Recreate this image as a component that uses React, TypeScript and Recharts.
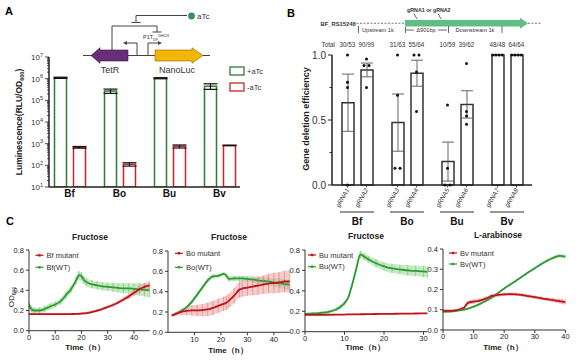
import React from "react";
import {
  Area,
  Bar,
  BarChart,
  ComposedChart,
  ErrorBar,
  Line,
  Scatter,
  XAxis,
  YAxis
} from "recharts";

const FONT = "'Liberation Sans', Arial, sans-serif";

// ---------- A: luminescence ----------
const lumStrains = ["Bf", "Bo", "Bu", "Bv"];
const lumPlus = [1.1e6, 2.7e5, 1.05e6, 4.5e5];
const lumPlusErr = [7e4, 6e4, 6e4, 1.3e5];
const lumMinus = [680, 112, 750, 830];
const lumMinusErr = [60, 20, 120, 20];

// ---------- B: deletion efficiency ----------
const delStrains = ["Bf", "Bo", "Bu", "Bv"];
const effFirst = [0.633, 0.48, 0.18, 1];
const effFirstErr = [0.22, 0.22, 0.15, 0];
const effSecond = [0.885, 0.86, 0.62, 1];
const effSecondErr = [0.053, 0.1, 0.105, 0];
const totalsFirst = ["30/53", "31/63", "10/59", "48/48"];
const totalsSecond = ["90/99", "55/64", "39/62", "64/64"];
const dotsFirst = [
  [1, 0.79, 0.75, 0],
  [1, 0.69, 0.128, 0.128],
  [0.615, 0.128, 0, 0],
  [1, 1, 1, 1]
];
const dotsSecond = [
  [0.97, 0.92, 0.92, 0.75],
  [1, 1, 0.87, 0.565],
  [0.935, 0.565, 0.53, 0.467],
  [1, 1, 1, 1]
];

// ---------- C: growth curves ----------
const bfTime = [0, 1, 2, 4, 6, 8, 10, 12, 14, 16, 18, 19, 20, 21, 22, 24, 26, 28, 30, 32, 34, 36, 38, 40, 42, 44, 46];
const bfWT = [0.26, 0.21, 0.2, 0.2, 0.215, 0.24, 0.26, 0.29, 0.35, 0.41, 0.5, 0.55, 0.54, 0.5, 0.48, 0.46, 0.45, 0.44, 0.435, 0.43, 0.425, 0.42, 0.42, 0.415, 0.41, 0.405, 0.4];
const bfWTErr = [0.03, 0.03, 0.03, 0.03, 0.03, 0.03, 0.03, 0.03, 0.035, 0.035, 0.04, 0.04, 0.04, 0.04, 0.04, 0.04, 0.04, 0.04, 0.04, 0.045, 0.045, 0.05, 0.05, 0.055, 0.06, 0.065, 0.07];
const bfMut = [0.165, 0.165, 0.165, 0.164, 0.164, 0.164, 0.164, 0.164, 0.164, 0.165, 0.166, 0.167, 0.17, 0.172, 0.175, 0.185, 0.2, 0.215, 0.235, 0.255, 0.28, 0.31, 0.34, 0.375, 0.41, 0.435, 0.45];
const bfMutErr = [0.01, 0.01, 0.01, 0.01, 0.01, 0.01, 0.01, 0.01, 0.01, 0.01, 0.01, 0.01, 0.01, 0.01, 0.012, 0.012, 0.013, 0.014, 0.015, 0.017, 0.018, 0.02, 0.025, 0.03, 0.033, 0.035, 0.04];

const boTime = [1.5, 3, 5, 7, 9, 11, 13, 15, 17, 19, 21, 22, 23, 25, 27, 28, 30, 32, 34, 36, 38, 40, 42, 44, 46];
const boWT = [0.17, 0.185, 0.21, 0.245, 0.3, 0.37, 0.44, 0.51, 0.55, 0.555, 0.575, 0.56, 0.525, 0.53, 0.53, 0.53, 0.525, 0.52, 0.51, 0.505, 0.5, 0.49, 0.485, 0.475, 0.47];
const boWTErr = [0.01, 0.012, 0.015, 0.018, 0.02, 0.022, 0.022, 0.022, 0.02, 0.015, 0.015, 0.02, 0.025, 0.025, 0.025, 0.025, 0.028, 0.03, 0.032, 0.035, 0.038, 0.04, 0.045, 0.048, 0.05];
const boMut = [0.165, 0.18, 0.2, 0.21, 0.215, 0.215, 0.218, 0.225, 0.24, 0.26, 0.28, 0.29, 0.31, 0.36, 0.42, 0.43, 0.44, 0.45, 0.46, 0.47, 0.48, 0.485, 0.49, 0.5, 0.5];
const boMutErr = [0.015, 0.02, 0.03, 0.04, 0.05, 0.055, 0.06, 0.065, 0.07, 0.07, 0.07, 0.07, 0.07, 0.075, 0.08, 0.08, 0.08, 0.085, 0.09, 0.09, 0.095, 0.1, 0.1, 0.105, 0.11];

const buTime = [0, 2, 4, 6, 8, 9, 10, 11, 12, 13, 14, 15, 16, 18, 20, 22, 24, 26, 28, 30, 31];
const buWT = [0.175, 0.178, 0.185, 0.195, 0.22, 0.245, 0.28, 0.34, 0.47, 0.62, 0.755, 0.735, 0.71, 0.67, 0.64, 0.62, 0.61, 0.6, 0.595, 0.59, 0.585];
const buWTErr = [0.01, 0.01, 0.012, 0.014, 0.016, 0.018, 0.02, 0.022, 0.025, 0.03, 0.035, 0.035, 0.035, 0.04, 0.04, 0.045, 0.045, 0.05, 0.05, 0.055, 0.055];
const buMut = [0.165, 0.165, 0.166, 0.166, 0.167, 0.168, 0.168, 0.169, 0.17, 0.17, 0.171, 0.171, 0.172, 0.173, 0.174, 0.175, 0.176, 0.177, 0.178, 0.179, 0.18];
const buMutErr = [0.005, 0.005, 0.005, 0.005, 0.005, 0.005, 0.005, 0.005, 0.005, 0.005, 0.005, 0.005, 0.005, 0.005, 0.005, 0.005, 0.005, 0.005, 0.005, 0.005, 0.005];

const bvTime = [0, 2, 4, 6, 7, 8, 9, 10, 12, 14, 16, 18, 20, 22, 24, 26, 28, 30, 32, 34, 36, 37, 38, 39, 40];
const bvWT = [0.09, 0.091, 0.093, 0.098, 0.101, 0.105, 0.11, 0.115, 0.128, 0.143, 0.16, 0.183, 0.205, 0.225, 0.245, 0.265, 0.286, 0.305, 0.325, 0.342, 0.356, 0.362, 0.366, 0.365, 0.362];
const bvWTErr = [0.004, 0.004, 0.004, 0.004, 0.004, 0.004, 0.004, 0.004, 0.004, 0.004, 0.005, 0.005, 0.005, 0.005, 0.005, 0.005, 0.006, 0.006, 0.006, 0.007, 0.007, 0.008, 0.008, 0.008, 0.008];
const bvMut = [0.095, 0.095, 0.097, 0.105, 0.112, 0.132, 0.138, 0.14, 0.145, 0.155, 0.168, 0.173, 0.176, 0.177, 0.176, 0.172, 0.167, 0.162, 0.157, 0.152, 0.148, 0.145, 0.143, 0.14, 0.138];
const bvMutErr = [0.004, 0.004, 0.005, 0.006, 0.008, 0.01, 0.01, 0.01, 0.01, 0.01, 0.01, 0.009, 0.008, 0.008, 0.008, 0.008, 0.008, 0.008, 0.008, 0.009, 0.01, 0.01, 0.011, 0.012, 0.012];

const GREEN = "#2e9a36";
const RED = "#c0121c";

// ---------- derived tables ----------
const lumData = lumStrains.map((strain, i) => ({
  strain,
  plus: lumPlus[i],
  plusErr: lumPlusErr[i],
  minus: lumMinus[i],
  minusErr: lumMinusErr[i]
}));

const lumTicks: number[] = [];
for (let e = 1; e < 7; e++) for (let m = 1; m < 10; m++) lumTicks.push(m * Math.pow(10, e));
lumTicks.push(1e7);

const delData = delStrains.map((strain, i) => ({
  strain,
  first: effFirst[i],
  firstErr: effFirstErr[i],
  second: effSecond[i],
  secondErr: effSecondErr[i]
}));

// spread duplicate dots sideways so they stay visible
function spread(values: number[]) {
  return values.map((v, k) => {
    const same = values.filter((w) => w === v).length;
    const rank = values.slice(0, k).filter((w) => w === v).length;
    if (same < 2) return 0;
    const step = same > 2 ? 3.2 : 5;
    return (rank - (same - 1) / 2) * step;
  });
}

function dotRows(sets: number[][]) {
  return sets.flatMap((vals, i) => {
    const jit = spread(vals);
    return vals.map((v, k) => ({ strain: delStrains[i], v, j: jit[k] }));
  });
}
const dotsFirstRows = dotRows(dotsFirst);
const dotsSecondRows = dotRows(dotsSecond);

function growthRows(time: number[], wt: number[], wtErr: number[], mut: number[], mutErr: number[]) {
  return time.map((t, i) => ({
    t,
    wt: wt[i],
    wtErr: wtErr[i],
    wtBand: [wt[i] - wtErr[i], wt[i] + wtErr[i]],
    mut: mut[i],
    mutErr: mutErr[i],
    mutBand: [mut[i] - mutErr[i], mut[i] + mutErr[i]]
  }));
}

// ---------- ticks ----------
const LumTick = (props: any) => {
  const { x, y, payload } = props;
  const e = Math.log10(payload.value);
  const major = Math.abs(e - Math.round(e)) < 1e-6;
  return (
    <g>
      <line x1={x} x2={x - (major ? 4 : 2)} y1={y} y2={y} stroke="#222" strokeWidth={0.8} />
      {major && (
        <text x={x - 6} y={y + 3} textAnchor="end" fontSize={8} fill="#333" fontFamily={FONT}>
          10<tspan dy={-3.5} fontSize={5.5}>{Math.round(e)}</tspan>
        </text>
      )}
    </g>
  );
};

const EffYTick = (props: any) => {
  const { x, y, payload } = props;
  const v = payload.value;
  const major = Math.abs(v * 2 - Math.round(v * 2)) < 1e-6;
  return (
    <g>
      <line x1={x} x2={x - (major ? 4 : 2.5)} y1={y} y2={y} stroke="#222" strokeWidth={1} />
      {major && (
        <text x={x - 6} y={y + 3.5} textAnchor="end" fontSize={10} fill="#333" fontFamily={FONT}>
          {v.toFixed(1)}
        </text>
      )}
    </g>
  );
};

const GrnaTick = (props: any) => {
  const { x, y, payload } = props;
  const i = delStrains.indexOf(payload.value);
  return (
    <g fontFamily={FONT}>
      {[0, 1].map((j) => {
        const cx = x + (j === 0 ? -9.5 : 9.5);
        return (
          <g key={j}>
            <line x1={cx} x2={cx} y1={y} y2={y + 2.5} stroke="#333" strokeWidth={0.8} />
            <text
              transform={`translate(${cx + 2},${y + 5}) rotate(-60)`}
              textAnchor="end"
              fontSize={6.4}
              fontStyle="italic"
              fill="#333"
            >
              {`gRNA${2 * i + 1 + j}`}
            </text>
          </g>
        );
      })}
      <line x1={x - 17} x2={x + 17} y1={y + 27} y2={y + 27} stroke="#333" strokeWidth={1.2} />
      <text x={x} y={y + 40} textAnchor="middle" fontSize={10} fontWeight="bold" fill="#111">
        {payload.value}
      </text>
    </g>
  );
};

const TotalTick = (props: any) => {
  const { x, y, payload } = props;
  const i = delStrains.indexOf(payload.value);
  return (
    <g fontFamily={FONT} fontSize={6.3} fill="#333">
      <text x={x - 9.5} y={y - 8.5} textAnchor="middle">{totalsFirst[i]}</text>
      <text x={x + 9.5} y={y - 8.5} textAnchor="middle">{totalsSecond[i]}</text>
    </g>
  );
};

const dotShape = (side: number) => (p: any) => (
  <circle cx={p.cx + side + (p.payload?.j ?? 0)} cy={p.cy} r={1.5} fill="#111" />
);

// ---------- growth panel ----------
type Rect = { left: number; top: number; right: number; bottom: number };

function GrowthPanel(props: {
  rows: ReturnType<typeof growthRows>;
  plot: Rect;
  xMax: number;
  xTicks: number[];
  yMax: number;
  yTicks: number[];
}) {
  const { rows, plot, xMax, xTicks, yMax, yTicks } = props;
  const width = plot.right - plot.left + 34;
  const height = plot.bottom - plot.top + 36;
  const axisStyle = { fontSize: 7.5, fill: "#222", fontFamily: FONT };
  return (
    <div style={{ position: "absolute", left: plot.left - 30, top: plot.top - 12 }}>
      <ComposedChart width={width} height={height} data={rows} margin={{ top: 12, right: 4, left: 0, bottom: 6 }}>
        <XAxis
          type="number"
          dataKey="t"
          domain={[0, xMax]}
          ticks={xTicks}
          interval={0}
          allowDataOverflow
          height={18}
          tickSize={3}
          tickMargin={1}
          tick={axisStyle}
          stroke="#333"
        />
        <YAxis
          domain={[0, yMax]}
          ticks={yTicks}
          interval={0}
          width={30}
          tickSize={3}
          tickMargin={2}
          tick={axisStyle}
          tickFormatter={(v: number) => v.toFixed(1)}
          stroke="#333"
        />
        <Area type="monotone" dataKey="wtBand" stroke="none" fill="#8fd48a" fillOpacity={0.5} isAnimationActive={false} />
        <Area type="monotone" dataKey="mutBand" stroke="none" fill="#e99a9a" fillOpacity={0.5} isAnimationActive={false} />
        <Line type="monotone" dataKey="wt" stroke={GREEN} strokeWidth={1.8} dot={false} isAnimationActive={false}>
          <ErrorBar dataKey="wtErr" width={0} stroke="#6cc46a" strokeWidth={0.6} direction="y" />
        </Line>
        <Line type="monotone" dataKey="mut" stroke={RED} strokeWidth={1.8} dot={false} isAnimationActive={false}>
          <ErrorBar dataKey="mutErr" width={0} stroke="#dd7a7a" strokeWidth={0.6} direction="y" />
        </Line>
      </ComposedChart>
    </div>
  );
}

function Legend2(props: { x: number; y1: number; y2: number; mutant: string; wt: string }) {
  const { x, y1, y2, mutant, wt } = props;
  const item = (y: number, color: string, label: string) => (
    <g>
      <line x1={x} x2={x + 8} y1={y} y2={y} stroke={color} strokeWidth={1.2} />
      <rect x={x + 2.8} y={y - 1.2} width={2.4} height={2.4} fill={color} />
      <text x={x + 11} y={y + 2.6} fontSize={7.5} fill="#333">{label}</text>
    </g>
  );
  return (
    <g fontFamily={FONT}>
      {item(y1, RED, mutant)}
      {item(y2, GREEN, wt)}
    </g>
  );
}

export default function App() {
  const lumAxisStyle = { fontSize: 10, fontWeight: "bold", fill: "#111", fontFamily: FONT };
  return (
    <div style={{ position: "absolute", left: 0, top: 0, width: 587, height: 360, background: "#fff", fontFamily: FONT }}>
      {/* A */}
      <div style={{ position: "absolute", left: 0, top: 40 }}>
        <BarChart
          width={265}
          height={170}
          data={lumData}
          margin={{ top: 17, right: 25, left: 0, bottom: 5 }}
          barSize={12}
          barGap={7}
        >
          <XAxis
            dataKey="strain"
            height={18}
            tickLine={false}
            tickSize={0}
            tickMargin={3}
            tick={lumAxisStyle}
            padding={{ left: -4.5, right: -4.5 }}
            stroke="#222"
            strokeWidth={1.5}
          />
          <YAxis
            scale="log"
            domain={[10, 1e7]}
            allowDataOverflow
            ticks={lumTicks}
            interval={0}
            width={49}
            tickLine={false}
            tickSize={0}
            tickMargin={0}
            tick={<LumTick />}
            stroke="#222"
            strokeWidth={1.5}
          />
          <Bar dataKey="plus" fill="#fff" stroke="#2f7d32" strokeWidth={1.5} isAnimationActive={false}>
            <ErrorBar dataKey="plusErr" width={7} stroke="#111" strokeWidth={1.2} />
          </Bar>
          <Bar dataKey="minus" fill="#fff" stroke="#cc2229" strokeWidth={1.5} isAnimationActive={false}>
            <ErrorBar dataKey="minusErr" width={7} stroke="#111" strokeWidth={1.2} />
          </Bar>
        </BarChart>
      </div>

      {/* B */}
      <div style={{ position: "absolute", left: 290, top: 25 }}>
        <ComposedChart
          width={250}
          height={210}
          data={delData}
          margin={{ top: 10, right: 8, left: 0, bottom: 5 }}
          barSize={12}
          barGap={7}
        >
          <XAxis
            dataKey="strain"
            allowDuplicatedCategory={false}
            height={45}
            tickLine={false}
            tickSize={0}
            tickMargin={0}
            tick={<GrnaTick />}
            interval={0}
            stroke="#222"
            strokeWidth={1.5}
          />
          <XAxis
            xAxisId="top"
            orientation="top"
            dataKey="strain"
            height={20}
            axisLine={false}
            tickLine={false}
            tickSize={0}
            tickMargin={0}
            tick={<TotalTick />}
            interval={0}
          />
          <YAxis
            domain={[0, 1]}
            ticks={[0, 0.25, 0.5, 0.75, 1]}
            interval={0}
            width={42}
            tickLine={false}
            tickSize={0}
            tickMargin={0}
            tick={<EffYTick />}
            stroke="#222"
            strokeWidth={1.5}
          />
          <Bar dataKey="first" fill="#fff" stroke="#333" strokeWidth={1.5} isAnimationActive={false}>
            <ErrorBar dataKey="firstErr" width={6} stroke="#555" strokeWidth={0.9} />
          </Bar>
          <Bar dataKey="second" fill="#fff" stroke="#333" strokeWidth={1.5} isAnimationActive={false}>
            <ErrorBar dataKey="secondErr" width={6} stroke="#555" strokeWidth={0.9} />
          </Bar>
          <Scatter data={dotsFirstRows} dataKey="v" shape={dotShape(-9.5)} isAnimationActive={false} />
          <Scatter data={dotsSecondRows} dataKey="v" shape={dotShape(9.5)} isAnimationActive={false} />
        </ComposedChart>
      </div>

      {/* C */}
      <GrowthPanel
        rows={growthRows(bfTime, bfWT, bfWTErr, bfMut, bfMutErr)}
        plot={{ left: 29.3, top: 250, right: 150, bottom: 330.7 }}
        xMax={46}
        xTicks={[0, 10, 20, 30, 40]}
        yMax={0.8}
        yTicks={[0, 0.2, 0.4, 0.6, 0.8]}
      />
      <GrowthPanel
        rows={growthRows(boTime, boWT, boWTErr, boMut, boMutErr)}
        plot={{ left: 168.3, top: 250.7, right: 290, bottom: 332 }}
        xMax={46}
        xTicks={[10, 20, 30, 40]}
        yMax={0.8}
        yTicks={[0, 0.2, 0.4, 0.6, 0.8]}
      />
      <GrowthPanel
        rows={growthRows(buTime, buWT, buWTErr, buMut, buMutErr)}
        plot={{ left: 305, top: 250, right: 427.5, bottom: 331.7 }}
        xMax={31}
        xTicks={[0, 10, 20, 30]}
        yMax={0.8}
        yTicks={[0, 0.2, 0.4, 0.6, 0.8]}
      />
      <GrowthPanel
        rows={growthRows(bvTime, bvWT, bvWTErr, bvMut, bvMutErr)}
        plot={{ left: 443.3, top: 249, right: 565.7, bottom: 330 }}
        xMax={40}
        xTicks={[0, 10, 20, 30, 40]}
        yMax={0.4}
        yTicks={[0, 0.1, 0.2, 0.3, 0.4]}
      />

      {/* annotations */}
      <svg width={587} height={360} style={{ position: "absolute", left: 0, top: 0, pointerEvents: "none" }} fontFamily={FONT}>
        <text x={5} y={15} fontSize={11} fontWeight="bold">A</text>
        <text x={287} y={17} fontSize={11} fontWeight="bold">B</text>
        <text x={6} y={225} fontSize={11} fontWeight="bold">C</text>

        {/* A construct */}
        <g stroke="#444" strokeWidth={1} fill="none">
          <line x1={83} y1={55.5} x2={210} y2={55.5} />
          <polyline points="112,50 112,26 157,26 157,32" />
          <line x1={152.5} y1={32} x2={161.5} y2={32} />
          <polyline points="187,15.5 136,15.5 136,22.5" />
          <line x1={131.5} y1={22.5} x2={140.5} y2={22.5} />
          <polyline points="137,55 137,43 126,43" />
          <polyline points="148,55 148,43 159,43" />
        </g>
        <polygon points="123,43 127,41 127,45" fill="#444" />
        <polygon points="162,43 158,41 158,45" fill="#444" />
        <polygon points="91,55.5 100,47.7 100,50 128,50 128,61 100,61 100,63.3" fill="#6a2d7a" stroke="#3d1a45" strokeWidth={0.6} />
        <polygon points="155,50 192,50 192,47.7 203,55.5 192,63.3 192,61 155,61" fill="#f2b705" stroke="#8a6a00" strokeWidth={0.6} />
        <text x={110} y={73} fontSize={9} textAnchor="middle" fill="#333">TetR</text>
        <text x={177} y={73} fontSize={9} textAnchor="middle" fill="#333">NanoLuc</text>
        <text x={143} y={39} fontSize={5.5} fill="#333">
          P1T<tspan dy={1.5} fontSize={3.5}>DP</tspan><tspan dy={-3.5} fontSize={3.5}>GH023</tspan>
        </text>
        <circle cx={191.5} cy={16} r={3.4} fill="#3c8f5a" />
        <text x={197} y={19} fontSize={8} fill="#333">aTc</text>

        {/* A legend */}
        <rect x={230} y={67} width={14} height={8} fill="none" stroke="#2f7d32" strokeWidth={1.3} />
        <text x={247} y={74} fontSize={7.5} fill="#333">+aTc</text>
        <rect x={230} y={83} width={14} height={8} fill="none" stroke="#cc2229" strokeWidth={1.3} />
        <text x={247} y={90} fontSize={7.5} fill="#333">-aTc</text>
        <text transform="translate(22,122) rotate(-90)" textAnchor="middle" fontSize={8.5} fontWeight="bold" fill="#222">
          Luminescence(RLU/OD<tspan dy={2} fontSize={5.5}>600</tspan><tspan dy={-2}>)</tspan>
        </text>

        {/* B construct */}
        <text x={320.5} y={25.5} fontSize={5.8} fontWeight="bold" fill="#333">BF_RS15240</text>
        <line x1={353} y1={23.3} x2={404} y2={23.3} stroke="#555" strokeWidth={0.8} strokeDasharray="2 1.5" />
        <line x1={528} y1={23.3} x2={541} y2={23.3} stroke="#555" strokeWidth={0.8} strokeDasharray="2 1.5" />
        <polygon points="405,20 520,20 520,17.8 528,23.3 520,28.8 520,26.6 405,26.6" fill="#62bd85" />
        <g stroke="#444" strokeWidth={0.8}>
          <line x1={358.5} y1={26} x2={358.5} y2={33} />
          <line x1={405.5} y1={27} x2={405.5} y2={33} />
          <line x1={448.5} y1={26} x2={448.5} y2={33} />
          <line x1={502} y1={26} x2={502} y2={33} />
          <line x1={406} y1={30} x2={414} y2={30} />
          <line x1={438} y1={30} x2={447} y2={30} />
          <line x1={414} y1={13.5} x2={417} y2={19} />
          <line x1={438} y1={13.5} x2={441} y2={19} />
        </g>
        <text x={362} y={32} fontSize={5.6} fill="#333">Upstream 1k</text>
        <text x={426} y={32} fontSize={5.6} fill="#333" textAnchor="middle">Δ901bp</text>
        <text x={475} y={32} fontSize={5.6} fill="#333" textAnchor="middle">Downstream 1k</text>
        <text x={407} y={12} fontSize={5.3} fontWeight="bold" fill="#333">gRNA1  or  gRNA2</text>
        <text x={321.5} y={46.5} fontSize={6.3} fill="#333">Total</text>
        <text transform="translate(309,119) rotate(-90)" textAnchor="middle" fontSize={9} fontWeight="bold" fill="#222">
          Gene deletion efficiency
        </text>

        {/* C labels */}
        <text x={90} y={240} fontSize={8.5} fontWeight="bold" textAnchor="middle" fill="#222">Fructose</text>
        <text x={229} y={240} fontSize={8.5} fontWeight="bold" textAnchor="middle" fill="#222">Fructose</text>
        <text x={366} y={239} fontSize={8.5} fontWeight="bold" textAnchor="middle" fill="#222">Fructose</text>
        <text x={498} y={238} fontSize={8.5} fontWeight="bold" textAnchor="middle" fill="#222">L-arabinose</text>
        <Legend2 x={35.5} y1={255.3} y2={267.3} mutant="Bf mutant" wt="Bf(WT)" />
        <Legend2 x={175} y1={253.3} y2={267.3} mutant="Bo mutant" wt="Bo(WT)" />
        <Legend2 x={308} y1={255} y2={266.7} mutant="Bu mutant" wt="Bu(WT)" />
        <Legend2 x={449} y1={253} y2={264} mutant="Bv mutant" wt="Bv(WT)" />
        <text transform="translate(14,297) rotate(-90)" textAnchor="middle" fontSize={8} fill="#222">
          OD<tspan dy={2} fontSize={5}>600</tspan>
        </text>
        <text x={85} y={350} fontSize={8} fontWeight="bold" textAnchor="middle" fill="#222">Time（h）</text>
        <text x={228} y={353} fontSize={8} fontWeight="bold" textAnchor="middle" fill="#222">Time（h）</text>
        <text x={365} y={349.5} fontSize={8} fontWeight="bold" textAnchor="middle" fill="#222">Time（h）</text>
        <text x={503} y={349.5} fontSize={8} fontWeight="bold" textAnchor="middle" fill="#222">Time（h）</text>
      </svg>
    </div>
  );
}
